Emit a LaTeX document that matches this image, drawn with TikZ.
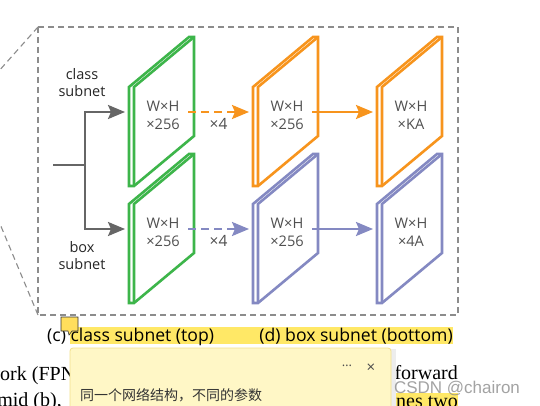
\documentclass[tikz,border=0pt]{standalone}
\usepackage{fontspec}
\setmainfont{Open Sans}
\newfontfamily\paperfont{Liberation Serif}
\newfontfamily\markfont{Liberation Sans}
\newfontfamily\cjk{Noto Sans CJK SC}
\usetikzlibrary{arrows.meta,positioning,calc}

\definecolor{clsgreen}{HTML}{3DB54A}
\definecolor{clsorange}{HTML}{F7941D}
\definecolor{boxblue}{HTML}{8489C2}
\definecolor{stemgray}{HTML}{666666}
\definecolor{labgray}{HTML}{505050}
\definecolor{hiyellow}{HTML}{FFE866}
\definecolor{notefill}{HTML}{FFF7C6}
\definecolor{noteline}{HTML}{F2E08C}

% one feature slab: name, front top-left corner, colour, text
\newcommand{\featslab}[4]{%
  \begin{scope}[shift={#2}, color=#3, line width=2.6pt, line join=miter]
    \fill[white] (0,0) -- (60,-50) -- (60,49) -- (0,99) -- cycle;
    \draw (-5,0) -- (55,-50) -- (60,-50) -- (60,49) -- (0,99) -- (-5,99) -- cycle;
    \draw (0,99) -- (0,0) -- (60,-50);
  \end{scope}
  \node[slabtext] (#1) at ($#2+(29,28)$) {#4};
  \coordinate (#1-in) at ($#2+(-9,25)$);
  \coordinate (#1-out) at ($#2+(54,25)$);
}

\begin{document}
\begin{tikzpicture}[
  x=1pt, y=-1pt,
  font=\fontsize{14.5}{17}\selectfont,
  slabtext/.style={align=center, text=labgray, inner sep=0pt,
               font=\fontsize{14.6}{18}\selectfont},
  netlabel/.style={align=center, text=black!85, inner sep=0pt},
  flow/.style={-{Stealth[length=17pt,width=14pt,inset=3pt]}, line width=2.4pt},
  clsflow/.style={flow, draw=clsorange},
  boxflow/.style={flow, draw=boxblue},
  stemflow/.style={flow, draw=stemgray},
  dashflow/.style={dash pattern=on 8pt off 5pt},
  times/.style={text=labgray, inner sep=0pt, font=\fontsize{15.5}{16}\selectfont},
  frame/.style={draw=black!45, line width=1.1pt, dash pattern=on 6pt off 4pt},
  capt/.style={inner sep=0pt, font=\fontsize{17.6}{20}\selectfont},
  paper/.style={inner sep=0pt, font=\paperfont\fontsize{20}{24}\selectfont}
]
\useasboundingbox (0,0) rectangle (540,406);
\clip (0,0) rectangle (540,406);
\fill[white] (0,0) rectangle (540,406);

% zoom frame
\draw[frame] (38,27) rectangle (458,315);
\draw[frame] (38,27) -- (-10,81);
\draw[frame] (38,315) -- (-10,200);

% slabs
\featslab{c1}{(134,87)}{clsgreen}{W×H\\×256}
\featslab{c2}{(258,87)}{clsorange}{W×H\\×256}
\featslab{c3}{(382,87)}{clsorange}{W×H\\×KA}
\featslab{b1}{(134,204)}{clsgreen}{W×H\\×256}
\featslab{b2}{(258,204)}{boxblue}{W×H\\×256}
\featslab{b3}{(382,204)}{boxblue}{W×H\\×4A}

% branch into the two subnets
\coordinate (stem) at (53,165);
\coordinate (split) at (85,165);
\draw[stemgray, line width=2.4pt] (stem) -- (split);
\draw[stemflow] (split) |- (c1-in);
\draw[stemflow] (split) |- (b1-in);
\node[netlabel] (clslab) at (82,83) {class\\subnet};
\node[netlabel] (boxlab) at (82,256) {box\\subnet};

\draw[clsflow, dashflow] (c1-out) -- node[times, below=5pt] (c4) {×4} (c2-in);
\draw[clsflow] (c2-out) -- (c3-in);
\draw[boxflow, dashflow] (b1-out) -- node[times, below=5pt] (b4) {×4} (b2-in);
\draw[boxflow] (b2-out) -- (b3-in);

% captions
\fill[hiyellow] (70,327) rectangle (453,344);
\node[capt, anchor=base west] (capc) at (47,341) {(c) class subnet (top)};
\node[capt, anchor=base east] (capd) at (453,341) {(d) box subnet (bottom)};
\draw[black!80, fill=hiyellow!90!orange, line width=0.6pt]
  (61,317) -- (78,317) -- (78,331) -- (72,331) -- (69,335) -- (68,331) -- (61,331) -- cycle;

% page text behind the note
\node[paper, anchor=base west] (ln1) at (-14.4,380) {work (FPN};
\node[paper, anchor=base east] (ln2) at (62,406) {pyramid (b),};
\fill[hiyellow] (390,393) rectangle (458,410);
\node[paper, anchor=base east] (ln3) at (458,379) {forward};
\node[paper, anchor=base east] (ln4) at (458,407) {combines two};

% note popup
\fill[black!7] (71,349) rectangle (396,420);
\draw[noteline, fill=notefill, rounded corners=3pt, line width=0.8pt] (70,348) rectangle (391,420);
\node[text=black!70, inner sep=0pt, font=\fontsize{13}{16}\selectfont] (more) at (347,366) {…};
\node[text=black!70, inner sep=0pt, font=\fontsize{15}{16}\selectfont] (close) at (371,368) {×};
\node[anchor=west, inner sep=0pt, text=black!80, font=\cjk\fontsize{14}{16}\selectfont] (note) at (80,395) {同一个网络结构，不同的参数};

% watermark
\node[text=black!45, opacity=0.8, inner sep=0pt, font=\markfont\fontsize{17}{18}\selectfont] (mark) at (457,389) {CSDN @chairon};
\end{tikzpicture}
\end{document}
